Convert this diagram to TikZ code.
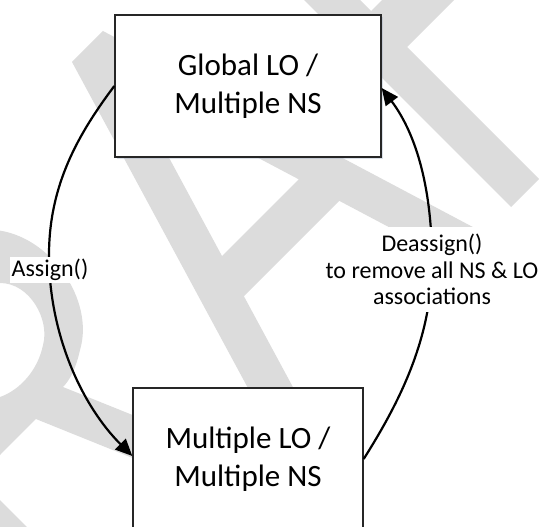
\documentclass[tikz,border=0pt]{standalone}
\usepackage{fontspec}
\setmainfont{Carlito}
\usetikzlibrary{arrows.meta,shadows}
\definecolor{wm}{RGB}{220,220,220}
\definecolor{shadowc}{RGB}{150,165,190}
\begin{document}
\begin{tikzpicture}[x=1pt,y=-1pt,
  box/.style={draw=black!85, line width=1.4pt, fill=white, minimum width=#1,
    minimum height=142pt, inner sep=0pt, align=center,
    font=\fontsize{31}{37.5}\selectfont},
  lbl/.style={fill=white, align=center, font=\fontsize{24}{26.7}\selectfont,
    inner xsep=1.5pt, inner ysep=2pt},
  conn/.style={line width=2.2pt, -{Triangle[length=17pt,width=15pt]}},
  wmark/.style={fill=wm, draw=none}]
\clip (0,0) rectangle (539,527);
% watermark fragments
\fill[wmark, even odd rule] (72,62) -- (103,31) -- (484.7,233.3) -- (455.6,262.4)
  -- (339.2,200.8) -- (243.9,296.2) -- (306.2,411.7) -- (276.7,441.3) -- cycle
  (133.6,92) -- (222,256) -- (298.7,179.3) -- cycle;
\fill[wmark] (294,-10) -- (350,-10) -- (371,11) -- (491,-109) -- (527,-73)
  -- (407,47) -- (539,179) -- (511,207) -- cycle;
\fill[wmark, even odd rule] (-5,230) .. controls (50,235) and (95,300) .. (80,350)
  .. controls (76,368) and (70,380) .. (63,387) -- (140,418) -- (140,461)
  -- (35.9,419) -- (0,455) -- (-5,460) -- cycle
  (0,283) .. controls (30,283) and (50,320) .. (43,345)
  .. controls (38,370) and (20,390) .. (0,397) -- (-5,397) -- (-5,283) -- cycle;
\fill[wmark] (0,500) -- (35,535) -- (-5,535) -- cycle;
% boxes
\node[box=266pt, drop shadow={shadow xshift=1.5pt, shadow yshift=-2pt,
  fill=shadowc, opacity=0.35}] (top) at (248,86) {Global LO /\\Multiple NS};
\node[box=230pt] (bot) at (248,459) {Multiple LO /\\Multiple NS};
% connectors
\coordinate (aL) at (49,255);
\coordinate (dR) at (432,262);
\draw[conn] (top.west) .. controls +(-36,48) and +(0,-70) .. (aL)
  .. controls +(0,80) and +(-50,-50) .. ([yshift=3pt]bot.west);
\draw[conn] (bot.east) .. controls +(32,-51) and +(0,80) .. (dR)
  .. controls +(0,-70) and +(36,48) .. ([yshift=-2pt]top.east);
% labels
\node[lbl] (as) at (50,270) {Assign()};
\node[lbl, inner ysep=7pt] (de) at (432,269.5) {Deassign()\\to remove all NS \& LO\\associations};
\end{tikzpicture}
\end{document}
